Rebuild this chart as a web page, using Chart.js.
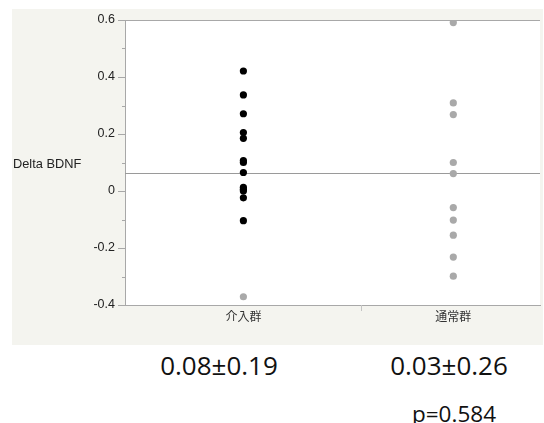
<!DOCTYPE html>
<html>
<head>
<meta charset="utf-8">
<script src="https://cdn.jsdelivr.net/npm/chart.js@4"></script>
<style>
  body { margin: 0; background: #fff; width: 544px; height: 423px; overflow: hidden; position: relative; }
  #wrap { position: absolute; left: 0; top: 0; width: 544px; height: 345px; }
  .lbl { position: absolute; font-family: "Liberation Sans", Arial, sans-serif; color: #222; white-space: nowrap; }
  .stat { position: absolute; font-family: "Open Sans", sans-serif; color: #111; line-height: 1; white-space: nowrap; transform: translateX(-50%); }
</style>
</head>
<body>
<div id="wrap"><canvas id="grafico"></canvas></div>
<div class="lbl" id="ytitle" style="left:13px; top:156px; font-size:12.8px;">Delta BDNF</div>
<div class="stat" id="stat1" style="left:219px; top:352px; font-size:26px;"></div>
<div class="stat" id="stat2" style="left:449px; top:352px; font-size:26px;"></div>
<div class="stat" id="pval" style="left:454px; top:403px; font-size:22.5px;"></div>

<script>
// categorias e posições no eixo x
const grupos = ['介入群', '通常群'];
const posGrupo = [1, 2];

// valores (Delta BDNF)
const intervencao = [0.421, 0.337, 0.271, 0.205, 0.185, 0.107, 0.100, 0.065, 0.013, 0.006, 0.000, -0.024, -0.104];
const intervencaoExcluido = [-0.371];
const usual = [0.591, 0.309, 0.268, 0.100, 0.061, -0.058, -0.102, -0.155, -0.232, -0.299];

const mediaGeral = 0.064;
const yTicks = [-0.4, -0.2, 0, 0.2, 0.4, 0.6];
const resumo = ['0.08±0.19', '0.03±0.26'];
const pTexto = 'p=0.584';

document.getElementById('stat1').textContent = resumo[0];
document.getElementById('stat2').textContent = resumo[1];
document.getElementById('pval').textContent = pTexto;

const pontos = (vals, x) => vals.map(v => ({ x: x, y: v }));

// fundo do painel, borda superior, linha da média e marcas dos eixos
const painelPlugin = {
  id: 'painel',
  beforeDraw(chart) {
    const ctx = chart.ctx;
    const a = chart.chartArea;
    ctx.save();
    ctx.fillStyle = '#f4f4ef';
    ctx.fillRect(12, 9, 531, 336);
    ctx.fillStyle = '#ffffff';
    ctx.fillRect(a.left, a.top, a.right - a.left, a.bottom - a.top);
    ctx.restore();
  },
  beforeDatasetsDraw(chart) {
    const ctx = chart.ctx;
    const a = chart.chartArea;
    const y = chart.scales.y;
    const x = chart.scales.x;
    ctx.save();
    ctx.strokeStyle = '#a8a8a8';
    ctx.lineWidth = 1;
    // borda superior
    ctx.beginPath();
    ctx.moveTo(a.left, a.top + 0.5);
    ctx.lineTo(a.right, a.top + 0.5);
    ctx.stroke();
    // linha da média
    const ym = Math.round(y.getPixelForValue(mediaGeral)) + 0.5;
    ctx.strokeStyle = '#9a9a9a';
    ctx.beginPath();
    ctx.moveTo(a.left, ym);
    ctx.lineTo(a.right, ym);
    ctx.stroke();
    // marcas do eixo y (maiores e menores)
    ctx.strokeStyle = '#a8a8a8';
    y.ticks.forEach((t, i) => {
      const py = Math.round(y.getPixelForValue(t.value)) + 0.5;
      const len = (i % 2 === 0) ? 7 : 3;
      ctx.beginPath();
      ctx.moveTo(a.left - len, py);
      ctx.lineTo(a.left, py);
      ctx.stroke();
    });
    // divisória entre grupos
    const px = Math.round(x.getPixelForValue(1.561)) + 0.5;
    ctx.strokeStyle = '#c4c4c4';
    ctx.beginPath();
    ctx.moveTo(px, a.bottom);
    ctx.lineTo(px, a.bottom + 6);
    ctx.stroke();
    ctx.restore();
  }
};

new Chart(document.getElementById('grafico'), {
  type: 'scatter',
  data: {
    datasets: [
      {
        label: grupos[0],
        data: pontos(intervencao, posGrupo[0]),
        backgroundColor: '#000000',
        borderWidth: 0,
        pointRadius: 3.6
      },
      {
        label: grupos[0] + ' (除外)',
        data: pontos(intervencaoExcluido, posGrupo[0]),
        backgroundColor: '#a9a9a9',
        borderWidth: 0,
        pointRadius: 3.6
      },
      {
        label: grupos[1],
        data: pontos(usual, posGrupo[1]),
        backgroundColor: '#a9a9a9',
        borderWidth: 0,
        pointRadius: 3.6
      }
    ]
  },
  options: {
    responsive: true,
    maintainAspectRatio: false,
    animation: false,
    layout: { padding: { left: 12, top: 20, right: 0, bottom: 0 } },
    plugins: {
      legend: { display: false },
      tooltip: { enabled: false }
    },
    scales: {
      x: {
        type: 'linear',
        min: 0.436,
        max: 2.413,
        afterBuildTicks: (axis) => { axis.ticks = posGrupo.map(v => ({ value: v })); },
        afterFit: (axis) => { axis.height = 40; },
        ticks: {
          autoSkip: false,
          maxRotation: 0,
          padding: -4,
          color: '#333',
          font: { family: '"Noto Sans CJK JP", sans-serif', size: 12 },
          callback: (v) => grupos[posGrupo.indexOf(v)] || ''
        },
        grid: { display: false },
        border: { display: true, color: '#a8a8a8', width: 1 }
      },
      y: {
        min: -0.4,
        max: 0.6,
        afterFit: (axis) => { axis.width = 113; },
        ticks: {
          stepSize: 0.1,
          padding: 2,
          color: '#222',
          font: { family: '"Liberation Sans", Arial, sans-serif', size: 12.5 },
          callback: (v) => {
            const r = Math.round(v * 10) / 10;
            return yTicks.includes(r) ? String(r) : '';
          }
        },
        grid: { display: false },
        border: { display: true, color: '#a8a8a8', width: 1 }
      }
    }
  },
  plugins: [painelPlugin]
});
</script>
</body>
</html>
